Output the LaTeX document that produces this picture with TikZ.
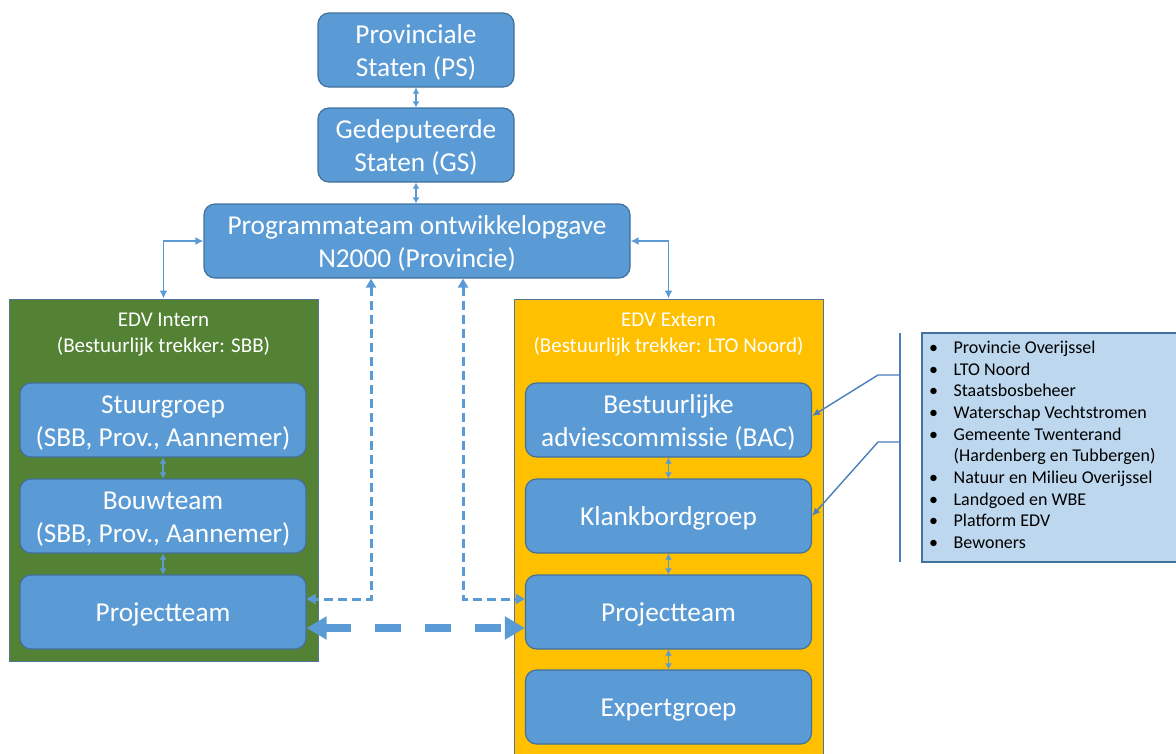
\documentclass[tikz,border=0pt]{standalone}
\usepackage{fontspec}
\setmainfont{Carlito}
\usetikzlibrary{arrows.meta}
\definecolor{boxblue}{HTML}{5B9BD5}
\definecolor{edgeblue}{HTML}{41719C}
\definecolor{dgreen}{HTML}{548235}
\definecolor{gold}{HTML}{FFC000}
\definecolor{listblue}{HTML}{BDD7EE}
\definecolor{brkblue}{HTML}{4A7EBB}
\newcommand\upstrut{\rule{0pt}{24.5pt}}
\begin{document}
\begin{tikzpicture}[x=1pt,y=-1pt,
  box/.style={draw=edgeblue, line width=1.2pt, fill=boxblue, rounded corners=11pt, text=white, align=center, minimum width=286pt, minimum height=74pt, inner sep=0pt, font=\fontsize{27.3}{33}\selectfont},
  container/.style={draw=edgeblue!70!gray, line width=1pt, inner sep=0pt},
  lab/.style={text=white, align=center, inner sep=0pt, font=\fontsize{21}{26}\selectfont},
  link/.style={draw=boxblue, line width=1.5pt, {Latex[length=6pt,width=7pt]}-{Latex[length=6pt,width=7pt]}},
  biglink/.style={draw=boxblue, line width=1.8pt, {Latex[length=8pt,width=8pt]}-{Latex[length=8pt,width=8pt]}},
  dashlink/.style={draw=boxblue, line width=3pt, dash pattern=on 9pt off 5pt, {Triangle[length=9pt,width=10pt]}-{Triangle[length=9pt,width=10pt]}},
  thicklink/.style={draw=boxblue, line width=8pt, dash pattern=on 26pt off 24pt, {Triangle[length=20pt,width=22pt]}-{Triangle[length=20pt,width=22pt]}},
  brk/.style={draw=brkblue, line width=1.4pt},
  brkarrow/.style={brk, -{Latex[length=8pt,width=7pt]}}
]
\useasboundingbox (0,0) rectangle (1176,753);

% containers
\node[container, fill=dgreen, minimum width=309pt, minimum height=362pt] (green) at (163.5,480) {};
\node[container, fill=gold, minimum width=309pt, minimum height=466pt] (yellow) at (668.5,532) {};
\node[lab] (gl) at (163.5,335) {EDV Intern\\(Bestuurlijk trekker: SBB)};
\node[lab] (yl) at (668.5,335) {EDV Extern\\(Bestuurlijk trekker: LTO Noord)};

% top boxes
\node[box, minimum width=196pt] (ps) at (416,50) {\upstrut Provinciale\\Staten (PS)};
\node[box, minimum width=196pt] (gs) at (416,145) {\upstrut Gedeputeerde\\Staten (GS)};
\node[box, minimum width=426pt] (prog) at (417,241) {\upstrut Programmateam ontwikkelopgave\\N2000 (Provincie)};

% left boxes
\node[box] (stuur) at (163,420) {\upstrut Stuurgroep\\(SBB, Prov., Aannemer)};
\node[box] (bouw) at (163,516) {\upstrut Bouwteam\\(SBB, Prov., Aannemer)};
\node[box] (lpt) at (163,612) {\upstrut Projectteam};

% right boxes
\node[box] (bac) at (668.5,420) {\upstrut Bestuurlijke\\adviescommissie (BAC)};
\node[box] (klank) at (668.5,516) {\upstrut Klankbordgroep};
\node[box] (rpt) at (668.5,612) {\upstrut Projectteam};
\node[box] (expert) at (668.5,707) {\upstrut Expertgroep};

% list
\node[draw=edgeblue, line width=1.2pt, fill=listblue, minimum width=258pt, minimum height=229pt, inner sep=0pt] (listbox) at (1051,447.5) {};
\node[anchor=north west, inner sep=0pt, font=\fontsize{18}{21.7}\selectfont] (items) at (929,338) {%
\begin{tabular}{@{}l@{\hspace{15.5pt}}l@{}}
\textbullet & Provincie Overijssel\\
\textbullet & LTO Noord\\
\textbullet & Staatsbosbeheer\\
\textbullet & Waterschap Vechtstromen\\
\textbullet & Gemeente Twenterand\\
 & (Hardenberg en Tubbergen)\\
\textbullet & Natuur en Milieu Overijssel\\
\textbullet & Landgoed en WBE\\
\textbullet & Platform EDV\\
\textbullet & Bewoners
\end{tabular}};

% connectors
\draw[link] (ps.south) -- (gs.north);
\draw[link] (gs.south) -- (prog.north -| gs.south);
\draw[biglink] (prog.west) -| (green.north);
\draw[biglink] (prog.east) -| (yellow.north);
\draw[link] (stuur.south) -- (bouw.north);
\draw[link] (bouw.south) -- (lpt.north);
\draw[link] (bac.south) -- (klank.north);
\draw[link] (klank.south) -- (rpt.north);
\draw[link] (rpt.south) -- (expert.north);

\draw[dashlink] (prog.south -| 371,0) |- (lpt.east |- 0,599);
\draw[dashlink] (prog.south -| 463,0) |- (rpt.west |- 0,599);
\draw[thicklink] (lpt.east |- 0,628) -- (rpt.west |- 0,628);

% bracket
\coordinate (btop) at (900,333);
\coordinate (bbot) at (900,562);
\coordinate (b1) at (900,375);
\coordinate (b2) at (900,442);
\draw[brk] (btop) -- (bbot);
\draw[brkarrow] (b1) -- ++(-22,0) -- (bac.east |- 0,416);
\draw[brkarrow] (b2) -- ++(-22,0) -- (klank.east);
\end{tikzpicture}
\end{document}
